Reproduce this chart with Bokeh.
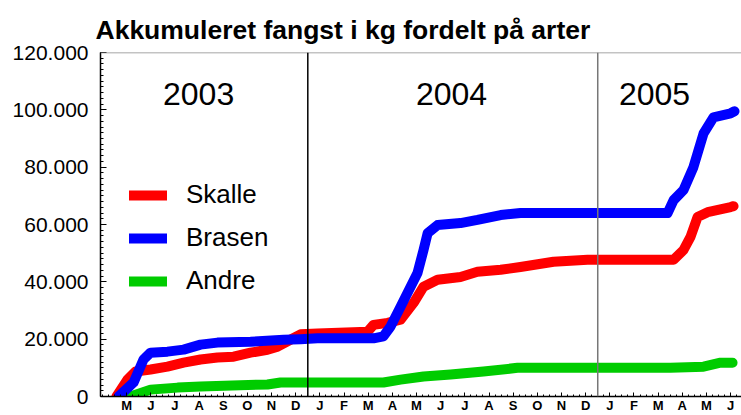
from bokeh.plotting import figure
from bokeh.models import Range1d, FixedTicker, Span, Legend, LegendItem, ColumnDataSource
from bokeh.core.properties import value
from bokeh.embed import file_html
from bokeh.resources import INLINE

# x = months since 1 Jan 2003
skalle_x = [4.08, 4.54, 4.87, 5.49, 6.19, 6.86, 7.56, 8.26, 8.93, 9.63, 10.33, 10.75, 11.28, 11.70,
            12.40, 14.47, 14.72, 15.30, 15.84, 16.38, 16.79, 17.37, 18.32, 19.02, 19.98, 20.80,
            22.17, 23.58, 27.14, 27.55, 27.84, 28.13, 28.55, 29.50, 29.62]
skalle_y = [0, 5900, 8700, 9400, 10400, 11800, 12900, 13600, 13900, 15300, 16300, 17400, 19800, 21700,
            22000, 22600, 25000, 25700, 26800, 32700, 38300, 40700, 41700, 43500, 44200, 45200,
            47000, 47700, 47700, 51100, 55700, 62600, 64300, 66100, 66400]

brasen_x = [4.17, 4.79, 5.20, 5.49, 6.19, 6.86, 7.56, 8.26, 9.63, 11.00, 11.70, 12.40, 14.72, 15.13,
            15.42, 15.84, 16.54, 16.79, 16.96, 17.37, 18.32, 19.02, 19.98, 20.80, 26.89, 27.14,
            27.55, 27.96, 28.38, 28.79, 29.50, 29.66]
brasen_y = [0, 4900, 12900, 15300, 15650, 16350, 18100, 18800, 19100, 19800, 20000, 20300, 20300, 21000,
            24300, 31300, 43100, 51100, 57000, 59800, 60500, 61600, 63300, 64000, 64000, 68500,
            72000, 80000, 91800, 97400, 98800, 99500]

andre_x = [4.66, 5.49, 6.61, 7.56, 10.33, 10.87, 15.13, 15.84, 16.79, 17.91, 19.27, 20.68, 27.01,
           28.38, 29.08, 29.58]
andre_y = [0, 2400, 3100, 3500, 4200, 4900, 4900, 5900, 7000, 7700, 8700, 10000, 10000,
           10400, 11800, 11800]

month_letters = ["M", "J", "J", "A", "S", "O", "N", "D", "J", "F", "M", "A",
                 "M", "J", "J", "A", "S", "O", "N", "D", "J", "F", "M", "A", "M", "J"]
first_month = 4  # May 2003

y_ticks = [0, 20000, 40000, 60000, 80000, 100000, 120000]
y_tick_labels = ["0", "20.000", "40.000", "60.000", "80.000", "100.000", "120.000"]

year_labels = ["2003", "2004", "2005"]
year_label_x = [7.48, 17.95, 26.35]
year_label_y = [105500, 105500, 105500]
year_starts = [12, 24]

FONT = "Liberation Sans"

p = figure(width=741, height=415, output_backend="svg", toolbar_location=None,
           x_range=Range1d(3.42, 29.95), y_range=Range1d(0, 120000),
           min_border_left=100, min_border_right=0, min_border_top=52, min_border_bottom=19,
           title="Akkumuleret fangst i kg fordelt på arter")
p.title.text_font = FONT
p.title.text_font_size = "26.5px"
p.title.text_font_style = "bold"
p.title.text_color = "black"
p.title.align = "left"
p.title.offset = -5
p.title.standoff = 16
p.outline_line_color = None
p.xgrid.visible = False
p.ygrid.visible = False

centers = [first_month + 0.5 + i for i in range(len(month_letters))]
minor = [first_month - 1 + k * 0.25 for k in range(4 * (len(month_letters) + 2))]
p.xaxis.ticker = FixedTicker(ticks=centers, minor_ticks=minor)
p.xaxis.major_label_overrides = {c: l for c, l in zip(centers, month_letters)}
p.xaxis.major_label_text_font = FONT
p.xaxis.major_label_text_font_size = "13px"
p.xaxis.major_label_text_font_style = "bold"
p.xaxis.major_label_text_color = "black"
p.xaxis.major_label_standoff = 1
p.xaxis.major_tick_in = 4
p.xaxis.major_tick_out = 0
p.xaxis.minor_tick_in = 2
p.xaxis.minor_tick_out = 0
p.xaxis.axis_line_width = 1.5

p.yaxis.ticker = FixedTicker(ticks=y_ticks, minor_ticks=list(range(0, 120001, 2000)))
p.yaxis.major_label_overrides = {t: l for t, l in zip(y_ticks, y_tick_labels)}
p.yaxis.major_label_text_font = FONT
p.yaxis.major_label_text_font_size = "21px"
p.yaxis.major_label_text_color = "black"
p.yaxis.major_label_standoff = 12
p.yaxis.major_tick_in = 6
p.yaxis.major_tick_out = 0
p.yaxis.minor_tick_in = 3
p.yaxis.minor_tick_out = 0
p.yaxis.axis_line_width = 1.5

p.add_layout(Span(location=120000, dimension="width", line_color="#888888", line_width=1.5))
p.add_layout(Span(location=year_starts[0], dimension="height", line_color="black", line_width=1.5))
p.add_layout(Span(location=year_starts[1], dimension="height", line_color="#777777", line_width=1.5))

src = ColumnDataSource(dict(x=year_label_x, y=year_label_y, t=year_labels))
p.text(x="x", y="y", text="t", source=src, text_font=value(FONT), text_font_size="32px",
       text_align="center", text_baseline="middle", text_color="black")

lw = 10
r_and = p.line(andre_x, andre_y, line_color="#00CC00", line_width=lw, line_cap="round", line_join="round")
r_ska = p.line(skalle_x, skalle_y, line_color="#FF0000", line_width=lw, line_cap="round", line_join="round")
r_bra = p.line(brasen_x, brasen_y, line_color="#0000FF", line_width=lw, line_cap="round", line_join="round")

legend = Legend(items=[LegendItem(label="Skalle", renderers=[r_ska]),
                       LegendItem(label="Brasen", renderers=[r_bra]),
                       LegendItem(label="Andre", renderers=[r_and])],
                location=(29, 100))
legend.label_text_font = FONT
legend.label_text_font_size = "26px"
legend.label_text_color = "black"
legend.glyph_width = 38
legend.glyph_height = 20
legend.label_height = 20
legend.label_standoff = 19
legend.spacing = 12
legend.padding = 0
legend.margin = 0
legend.border_line_color = None
legend.background_fill_alpha = 0
p.add_layout(legend)

open("out.html", "w").write(file_html(p, INLINE))
